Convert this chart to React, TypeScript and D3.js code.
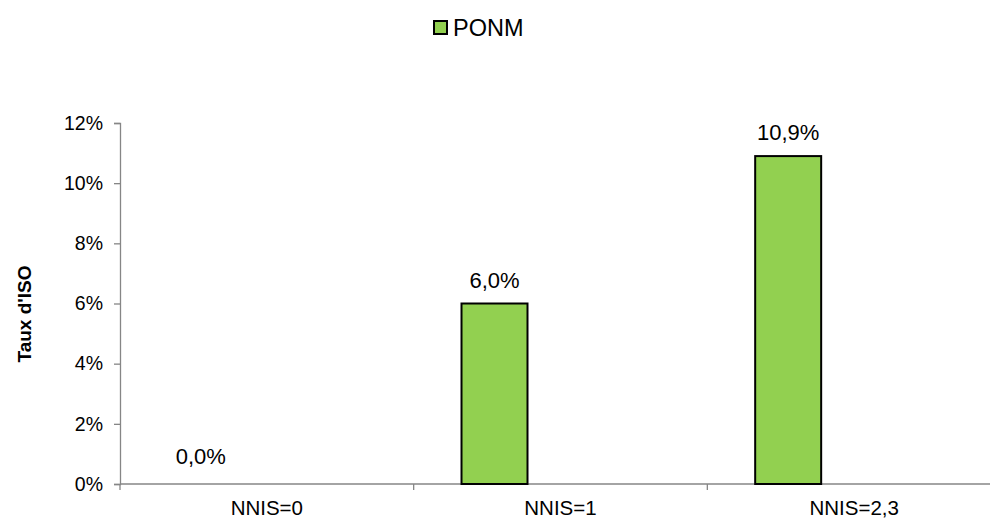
import * as d3 from "d3";
import { useEffect, useRef } from "react";

const categories = ["NNIS=0", "NNIS=1", "NNIS=2,3"];
// the source chart keeps room for three series per group; only PONM has values
const seriesNames = ["PONM", "_s2", "_s3"];
const ponmValues = [0.0, 6.0, 10.9];
const valueLabels = ["0,0%", "6,0%", "10,9%"];
const yTicks = [0, 2, 4, 6, 8, 10, 12];

const W = 990;
const H = 519;
const FONT = "'Liberation Sans', Arial, sans-serif";

export default function App() {
	const svgRef = useRef<SVGSVGElement>(null);

	useEffect(() => {
		const svg = d3.select(svgRef.current);
		if (!svg.node()) return;
		svg.selectAll("*").remove();

		const left = 120;
		const top = 123;
		const bottom = 484;
		const right = 1001;

		const x = d3.scaleBand<string>().domain(categories).range([left, right]).padding(0);
		const xs = d3
			.scaleBand<string>()
			.domain(seriesNames)
			.range([0, x.bandwidth()])
			.paddingInner(0)
			.paddingOuter(0.725);
		const y = d3.scaleLinear().domain([0, 12]).range([bottom, top]);

		const axisColor = "#868686";

		// y axis
		const yAxis = d3
			.axisLeft(y)
			.tickValues(yTicks)
			.tickSize(6)
			.tickPadding(11)
			.tickFormat((d) => `${d}%`);
		const gy = svg.append("g").attr("transform", `translate(${left},0)`).call(yAxis);
		gy.select(".domain").attr("stroke", axisColor).attr("stroke-width", 1.3);
		gy.selectAll(".tick line").attr("stroke", axisColor).attr("stroke-width", 1.3);
		gy.selectAll(".tick text")
			.attr("fill", "#000")
			.style("font-family", FONT)
			.style("font-size", "19.5px");

		// x axis line + boundary ticks
		svg
			.append("line")
			.attr("x1", left)
			.attr("x2", right)
			.attr("y1", bottom)
			.attr("y2", bottom)
			.attr("stroke", axisColor)
			.attr("stroke-width", 1.3);
		const bounds = categories.map((c) => x(c)!).concat([right]);
		svg
			.selectAll(".xtick")
			.data(bounds)
			.enter()
			.append("line")
			.attr("x1", (d) => d)
			.attr("x2", (d) => d)
			.attr("y1", bottom)
			.attr("y2", bottom + 6)
			.attr("stroke", axisColor)
			.attr("stroke-width", 1.3);
		svg
			.selectAll(".xlabel")
			.data(categories)
			.enter()
			.append("text")
			.attr("x", (d) => x(d)! + x.bandwidth() / 2)
			.attr("y", 515)
			.attr("text-anchor", "middle")
			.style("font-family", FONT)
			.style("font-size", "20.5px")
			.text((d) => d);

		// bars
		svg
			.selectAll(".bar")
			.data(ponmValues.map((v, i) => ({ v, c: categories[i] })))
			.enter()
			.append("rect")
			.attr("x", (d) => x(d.c)! + xs("PONM")!)
			.attr("y", (d) => y(d.v))
			.attr("width", xs.bandwidth())
			.attr("height", (d) => bottom - y(d.v))
			.attr("fill", "#92d050")
			.attr("stroke", "#000")
			.attr("stroke-width", 2)
			.attr("opacity", (d) => (d.v > 0 ? 1 : 0));

		// value labels
		svg
			.selectAll(".vlabel")
			.data(ponmValues.map((v, i) => ({ v, c: categories[i], t: valueLabels[i] })))
			.enter()
			.append("text")
			.attr("x", (d) => x(d.c)! + xs("PONM")! + xs.bandwidth() / 2)
			.attr("y", (d) => y(d.v) - (d.v > 0 ? 16 : 20))
			.attr("text-anchor", "middle")
			.style("font-family", FONT)
			.style("font-size", "22px")
			.text((d) => d.t);

		// y axis title
		svg
			.append("text")
			.attr("transform", `translate(31,314) rotate(-90)`)
			.attr("text-anchor", "middle")
			.style("font-family", FONT)
			.style("font-size", "19px")
			.style("font-weight", "bold")
			.text("Taux d'ISO");

		// legend
		const lg = svg.append("g");
		lg.append("rect")
			.attr("x", 434)
			.attr("y", 21)
			.attr("width", 13)
			.attr("height", 13)
			.attr("fill", "#92d050")
			.attr("stroke", "#000")
			.attr("stroke-width", 2);
		lg.append("text")
			.attr("x", 453)
			.attr("y", 36)
			.style("font-family", FONT)
			.style("font-size", "23.5px")
			.text("PONM");
	}, []);

	return (
		<svg
			ref={svgRef}
			width={W}
			height={H}
			style={{ position: "absolute", left: 0, top: 0, background: "#fff" }}
		/>
	);
}
